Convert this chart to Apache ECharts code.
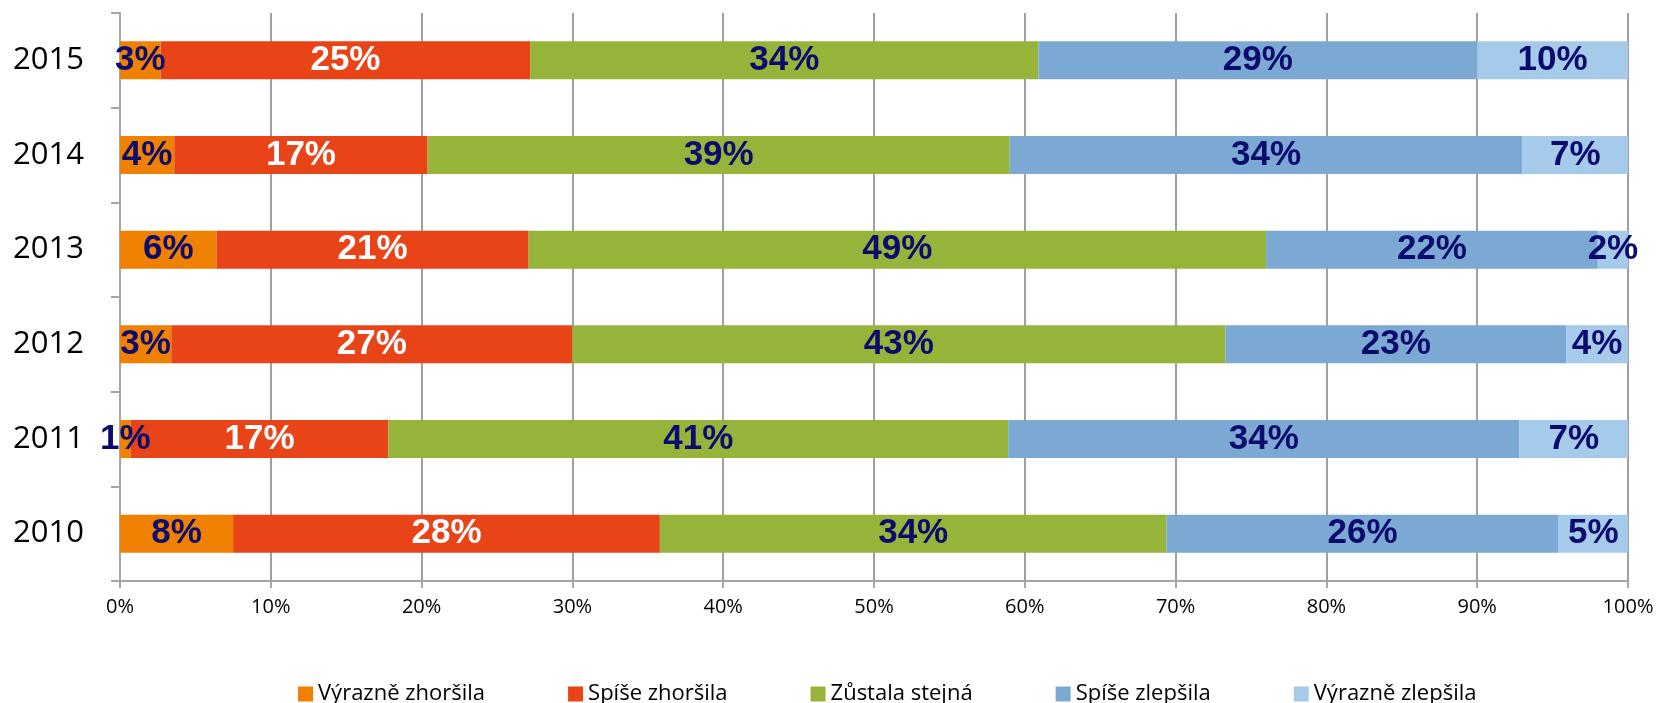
<!DOCTYPE html>
<html>
<head>
<meta charset="utf-8">
<script src="https://cdn.jsdelivr.net/npm/echarts@6/dist/echarts.min.js"></script>
<style>html,body{margin:0;padding:0;background:#fff;}#c{width:1657px;height:703px;}</style>
</head>
<body>
<div id="c"></div>
<script>
const years = ['2010', '2011', '2012', '2013', '2014', '2015'];
const seriesNames = ['Výrazně zhoršila', 'Spíše zhoršila', 'Zůstala stejná', 'Spíše zlepšila', 'Výrazně zlepšila'];
const vyrazneZhorsila = [7.5, 0.7, 3.4, 6.4, 3.6, 2.7];
const spiseZhorsila   = [28.3, 17.1, 26.6, 20.7, 16.8, 24.5];
const zustalaStejna   = [33.6, 41.1, 43.3, 48.9, 38.6, 33.7];
const spiseZlepsila   = [26.0, 33.9, 22.6, 22.0, 34.0, 29.1];
const vyrazneZlepsila = [4.6, 7.2, 4.1, 2.0, 7.0, 10.0];
const xTicks = [0, 10, 20, 30, 40, 50, 60, 70, 80, 90, 100];

const allValues = [vyrazneZhorsila, spiseZhorsila, zustalaStejna, spiseZlepsila, vyrazneZlepsila];
const colors = ['#EF8000', '#E84418', '#97B43A', '#7BA9D4', '#A6CBEA'];
const labelColors = ['#0B0B6E', '#FFFFFF', '#0B0B6E', '#0B0B6E', '#0B0B6E'];

const chart = echarts.init(document.getElementById('c'));
chart.setOption({
  animation: false,
  grid: { left: 120, right: 29, top: 13, bottom: 122, containLabel: false },
  xAxis: {
    type: 'value', min: xTicks[0], max: xTicks[xTicks.length - 1], interval: 10,
    axisLine: { show: true, lineStyle: { color: '#A6A6A6', width: 2 } },
    axisTick: { show: true, length: 7, lineStyle: { color: '#A6A6A6', width: 2 } },
    splitLine: { show: true, lineStyle: { color: '#A0A0A0', width: 2 } },
    axisLabel: { formatter: '{value}%', color: '#000', fontFamily: 'Open Sans', fontSize: 20, margin: 16 }
  },
  yAxis: {
    type: 'category', data: years,
    axisLine: { show: true, lineStyle: { color: '#A6A6A6', width: 2 } },
    axisTick: { show: true, length: 9, lineStyle: { color: '#A6A6A6', width: 2 } },
    axisLabel: { color: '#000', fontFamily: 'Open Sans', fontSize: 31, margin: 36 }
  },
  legend: {
    data: seriesNames, left: 293, top: 678, itemWidth: 15, itemHeight: 15, itemGap: 83,
    icon: 'rect',
    textStyle: { color: '#000', fontFamily: 'Open Sans', fontSize: 22, padding: [0, 0, 0, 0] }
  },
  series: seriesNames.map((name, i) => ({
    name: name, type: 'bar', stack: 'total', barWidth: 38,
    data: allValues[i],
    itemStyle: { color: colors[i] },
    label: {
      show: true, position: 'inside',
      formatter: p => Math.round(p.value) + '%',
      color: labelColors[i], fontFamily: 'Liberation Sans', fontWeight: 'bold', fontSize: 35,
      textBorderWidth: 0
    }
  }))
});
</script>
</body>
</html>
